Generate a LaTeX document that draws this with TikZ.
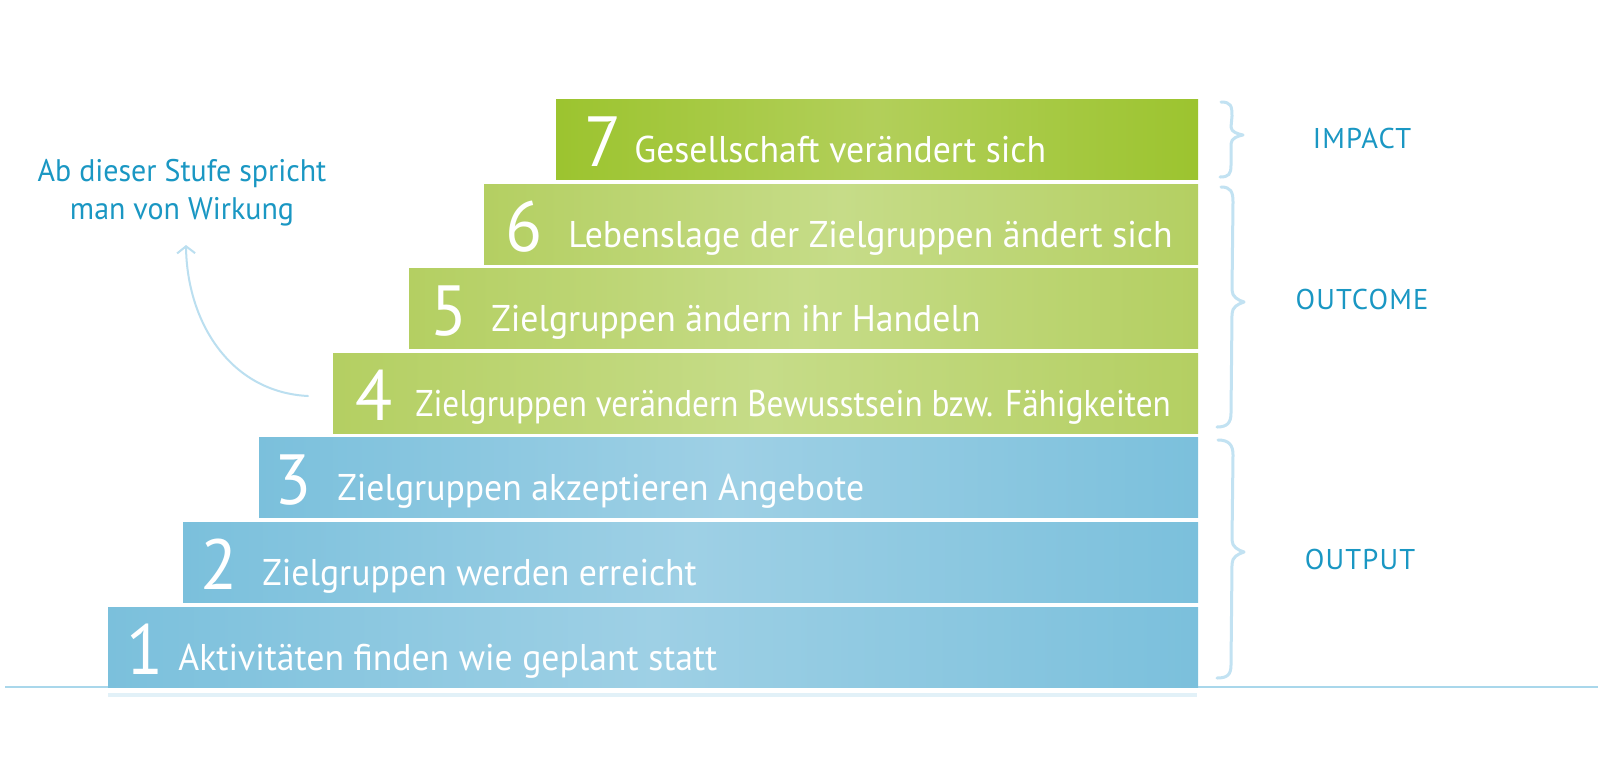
\documentclass[tikz,border=0pt]{standalone}
\usepackage{graphicx}
\usepackage{fontspec}
\setmainfont{PT Sans}[FakeStretch=0.96]
\newfontfamily\labfont{PT Sans}[LetterSpace=4]
\usetikzlibrary{arrows.meta}
\definecolor{tealtxt}{HTML}{1A97C3}
\definecolor{bracecol}{HTML}{C2E2F2}
\definecolor{arrowcol}{HTML}{BBDFF0}
\definecolor{baseln}{HTML}{A9D7EB}
\definecolor{stripcol}{HTML}{E2F1F8}
\definecolor{blueE}{HTML}{7BC0DC}
\definecolor{blueM}{HTML}{9ED0E5}
\definecolor{greenE}{HTML}{B4CF62}
\definecolor{greenM}{HTML}{C6DC88}
\definecolor{topE}{HTML}{9CC42F}
\definecolor{topM}{HTML}{B2CF5A}
\tikzset{
  numtxt/.style={anchor=base west, inner sep=0pt, text=white, font=\fontsize{35.5}{36}\selectfont},
  bartxt/.style={anchor=base west, inner sep=0pt, text=white, font=\fontsize{18.6}{20}\selectfont},
  labtxt/.style={anchor=base, inner sep=0pt, text=tealtxt, font=\labfont\fontsize{14.3}{16}\selectfont},
  annot/.style={anchor=base, inner sep=0pt, text=tealtxt, font=\fontsize{15.6}{17}\selectfont},
  bracestyle/.style={draw=bracecol, line width=1.5pt, line cap=round, line join=round},
}
\begin{document}
\begin{tikzpicture}[x=0.5pt, y=-0.5pt]
\useasboundingbox[fill=white] (0,0) rectangle (1600,773);
% baseline and strip
\draw[baseln, line width=1pt] (5,687) -- (1598,687);
\fill[stripcol] (108,693) rectangle (1197,697);
% blue bars
\foreach \n/\l/\t/\no/\to/\txt in {
  1/108/607/18/70/{Aktivitäten finden wie geplant statt},
  2/183/522/17/79/{Zielgruppen werden erreicht},
  3/259/437/15/78/{Zielgruppen akzeptieren Angebote}}{
  \shade[left color=blueE, right color=blueE, middle color=blueM] (\l,\t) rectangle (1198,\t+80);
  \node[numtxt] (num\n) at (\l+\no,\t+67) {\n};
  \node[bartxt] (txt\n) at (\l+\to,\t+63) {\txt};
}
% green bars
\foreach \n/\l/\t/\no/\to/\txt in {
  5/409/268/21/82/{Zielgruppen ändern ihr Handeln},
  6/484/184/21/84/{Lebenslage der Zielgruppen ändert sich}}{
  \shade[left color=greenE, right color=greenE, middle color=greenM] (\l,\t) rectangle (1198,\t+80);
  \node[numtxt] (num\n) at (\l+\no,\t+67) {\n};
  \node[bartxt] (txt\n) at (\l+\to,\t+63) {\txt};
}
\shade[left color=greenE, right color=greenE, middle color=greenM] (333,353) rectangle (1198,433);
\node[numtxt] (num4) at (355,420) {4};
\node[bartxt] (txt4) at (415,416) {\scalebox{0.93}[1]{Zielgruppen verändern Bewusstsein bzw. Fähigkeiten}};
% top bar
\shade[left color=topE, right color=topE, middle color=topM] (556,99) rectangle (1198,179);
\node[numtxt] (num7) at (584,166) {7};
\node[bartxt] (txt7) at (634,162) {Gesellschaft verändert sich};
% braces
\draw[bracestyle] (1221,102) .. controls (1231,102) and (1232,106) .. (1232,116)
  -- (1231,127) .. controls (1231,132) and (1238,134) .. (1243,135)
  .. controls (1238,136) and (1231,138) .. (1231,144)
  -- (1231,165) .. controls (1231,174) and (1229,177) .. (1220,177);
\draw[bracestyle] (1221,187) .. controls (1231,187) and (1233,192) .. (1233,202)
  -- (1232,290) .. controls (1232,297) and (1238,300) .. (1244,302)
  .. controls (1238,304) and (1232,307) .. (1232,314)
  -- (1231,413) .. controls (1231,423) and (1227,427) .. (1217,427);
\draw[bracestyle] (1218,440) .. controls (1229,440) and (1233,445) .. (1233,455)
  -- (1232,540) .. controls (1232,547) and (1238,550) .. (1244,552)
  .. controls (1238,554) and (1232,557) .. (1232,564)
  -- (1231,665) .. controls (1231,675) and (1227,678) .. (1217,678);
% labels
\node[labtxt] (impact) at (1362,148) {IMPACT};
\node[labtxt] (outcome) at (1362,309) {OUTCOME};
\node[labtxt] (output) at (1360,569) {OUTPUT};
% annotation
\node[annot] (annot1) at (182,181) {Ab dieser Stufe spricht};
\node[annot] (annot2) at (182,219) {man von Wirkung};
\coordinate (arrstart) at (308,396);
\coordinate (arrtip) at (186,245);
\draw[arrowcol, line width=1pt, line cap=round, -{Straight Barb[length=3.5pt,width=9pt]}]
  (arrstart) .. controls (230,392) and (187,322) .. (arrtip);
\end{tikzpicture}
\end{document}
